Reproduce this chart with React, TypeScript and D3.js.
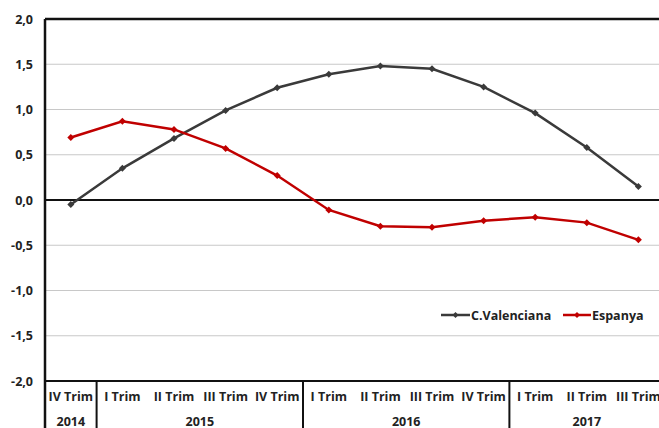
import React from "react";
import * as d3 from "d3";

const quarters = ["IV Trim", "I Trim", "II Trim", "III Trim", "IV Trim", "I Trim", "II Trim", "III Trim", "IV Trim", "I Trim", "II Trim", "III Trim"];
const years = [
  { label: "2014", start: 0, end: 1 },
  { label: "2015", start: 1, end: 5 },
  { label: "2016", start: 5, end: 9 },
  { label: "2017", start: 9, end: 12 },
];
const valenciana = [-0.05, 0.35, 0.68, 0.99, 1.24, 1.39, 1.48, 1.45, 1.25, 0.96, 0.58, 0.15];
const espanya = [0.69, 0.87, 0.78, 0.57, 0.27, -0.11, -0.29, -0.3, -0.23, -0.19, -0.25, -0.44];
const yTicks = [2, 1.5, 1, 0.5, 0, -0.5, -1, -1.5, -2];
const seriesNames = ["C.Valenciana", "Espanya"];

const W = 659, H = 428;
const left = 45, top = 19, bottom = 381;
const bandW = 51.6;
const font = "'Open Sans', Lato, sans-serif";

export default function App() {
  const x = d3.scaleBand<number>().domain(d3.range(12)).range([left, left + 12 * bandW]);
  const y = d3.scaleLinear().domain([-2, 2]).range([bottom, top]);
  const cx = (i: number) => (x(i) as number) + x.bandwidth() / 2;
  const line = d3.line<number>().x((_, i) => cx(i)).y((d) => y(d));
  const fmt = (v: number) => v.toFixed(1).replace(".", ",");
  const colors = ["#3a3a3a", "#c00000"];
  const data = [valenciana, espanya];
  const diamond = (px: number, py: number, r: number) => `M${px},${py - r}L${px + r},${py}L${px},${py + r}L${px - r},${py}Z`;
  const right = left + 12 * bandW;
  const fs = 12.5;
  return (
    <svg width={W} height={H} style={{ position: "absolute", left: 0, top: 0, background: "#fff" }} fontFamily={font}>
      {yTicks.map((t) => (
        <g key={t}>
          {t !== 0 && t !== 2 && t !== -2 && (
            <line x1={left} x2={right} y1={y(t)} y2={y(t)} stroke="#c8c8c8" strokeWidth={1.2} />
          )}
          <text x={33} y={y(t) + 4.5} textAnchor="end" fontSize={fs} fontWeight="bold" fill="#222">{fmt(t)}</text>
        </g>
      ))}
      <line x1={left} x2={right} y1={top} y2={top} stroke="#111" strokeWidth={2.5} />
      <line x1={left} x2={right} y1={y(0)} y2={y(0)} stroke="#111" strokeWidth={2} />
      <line x1={left} x2={right} y1={bottom} y2={bottom} stroke="#111" strokeWidth={2} />
      <line x1={left} x2={left} y1={top} y2={H} stroke="#111" strokeWidth={2.5} />
      {years.slice(1).map((yr) => (
        <line key={yr.label} x1={x(yr.start) as number} x2={x(yr.start) as number} y1={bottom} y2={H} stroke="#111" strokeWidth={2} />
      ))}
      {quarters.map((q, i) => (
        <text key={i} x={cx(i)} y={401} textAnchor="middle" fontSize={fs} fontWeight="bold" fill="#222">{q}</text>
      ))}
      {years.map((yr) => (
        <text key={yr.label} x={((x(yr.start) as number) + (yr.end < 12 ? (x(yr.end) as number) : right)) / 2} y={425.5} textAnchor="middle" fontSize={fs} fontWeight="bold" fill="#222">{yr.label}</text>
      ))}
      {data.map((d, k) => (
        <g key={k}>
          <path d={line(d) || ""} fill="none" stroke={colors[k]} strokeWidth={2.5} />
          {d.map((v, i) => (
            <path key={i} d={diamond(cx(i), y(v), 3.5)} fill={colors[k]} />
          ))}
        </g>
      ))}
      <g>
        <line x1={441} x2={470} y1={315} y2={315} stroke={colors[0]} strokeWidth={2.5} />
        <path d={diamond(455.5, 315, 3)} fill={colors[0]} />
        <text x={471} y={319.5} fontSize={fs} fontWeight="bold" fill="#222">{seriesNames[0]}</text>
        <line x1={563} x2={591} y1={315} y2={315} stroke={colors[1]} strokeWidth={2.5} />
        <path d={diamond(577, 315, 3)} fill={colors[1]} />
        <text x={592} y={319.5} fontSize={fs} fontWeight="bold" fill="#222">{seriesNames[1]}</text>
      </g>
    </svg>
  );
}
